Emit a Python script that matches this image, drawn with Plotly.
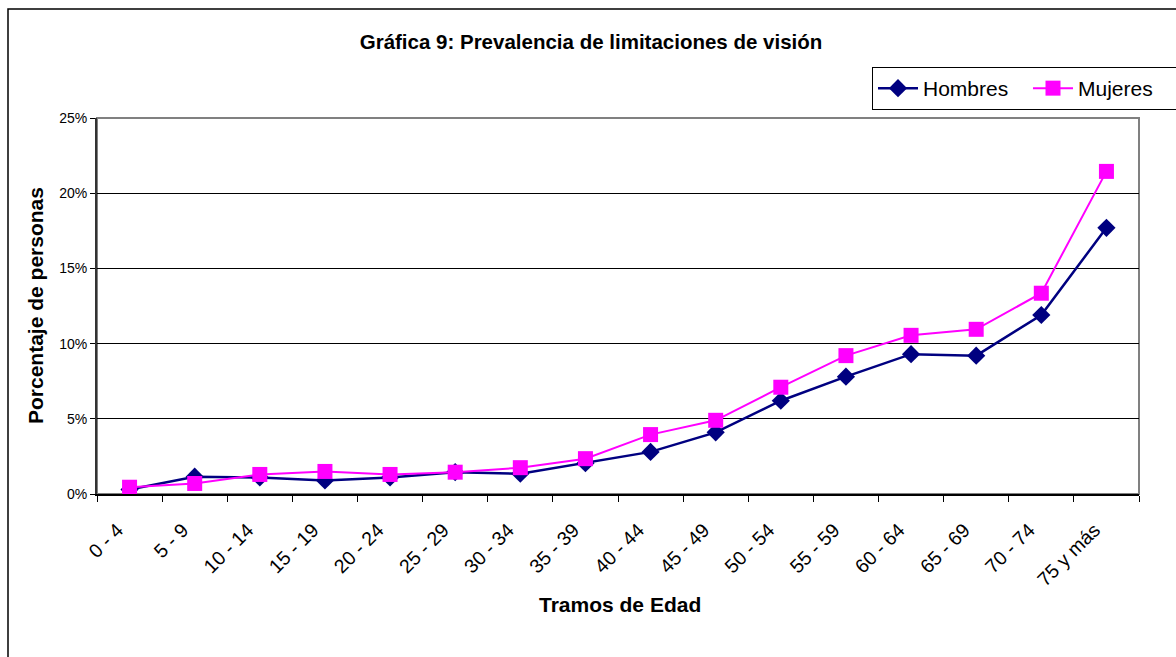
import plotly.graph_objects as go

categorias = ["0 - 4", "5 - 9", "10 - 14", "15 - 19", "20 - 24", "25 - 29", "30 - 34",
              "35 - 39", "40 - 44", "45 - 49", "50 - 54", "55 - 59", "60 - 64",
              "65 - 69", "70 - 74", "75 y más"]
hombres = [0.3, 1.15, 1.1, 0.9, 1.1, 1.45, 1.35, 2.05, 2.8, 4.1, 6.2, 7.8, 9.3, 9.2, 11.9, 17.7]
mujeres = [0.45, 0.7, 1.3, 1.5, 1.3, 1.45, 1.75, 2.35, 3.95, 4.9, 7.1, 9.2, 10.55, 10.95, 13.35, 21.45]
y_ticks = [0, 5, 10, 15, 20, 25]
y_ticktext = [f"{v}%" for v in y_ticks]

FONT = "Arial, Liberation Sans, sans-serif"
W, H = 1176, 657
L, R, T, B = 97, 37, 118, 163
PW, PH = W - L - R, H - T - B


def px(x):
    return (x - L) / PW


def py(y):
    return (H - B - y) / PH


fig = go.Figure()
fig.add_trace(go.Scatter(
    x=categorias, y=hombres, name="Hombres", mode="lines+markers",
    line=dict(color="#000080", width=2.5),
    marker=dict(symbol="diamond", size=14, color="#000080"),
))
fig.add_trace(go.Scatter(
    x=categorias, y=mujeres, name="Mujeres", mode="lines+markers",
    line=dict(color="#FF00FF", width=2),
    marker=dict(symbol="square", size=15, color="#FF00FF"),
))

fig.update_layout(
    width=W, height=H,
    margin=dict(l=L, r=R, t=T, b=B, autoexpand=False),
    paper_bgcolor="white", plot_bgcolor="white",
    font=dict(family=FONT, color="black"),
    title=dict(text="<b>Gráfica 9: Prevalencia de limitaciones de visión</b>",
               font=dict(size=20.5, family=FONT, color="black"),
               x=591 / W, xanchor="center", xref="container",
               y=1 - 42 / H, yanchor="middle", yref="container"),
    showlegend=True,
    legend=dict(orientation="h", xref="container", yref="container",
                x=872 / W, xanchor="left", y=1 - 67 / H, yanchor="top",
                bordercolor="black", borderwidth=1, bgcolor="white",
                font=dict(size=21, family=FONT, color="black"),
                entrywidth=100, entrywidthmode="pixels",
                itemwidth=40, tracegroupgap=0),
    xaxis=dict(type="category", tickson="boundaries", ticks="outside", ticklen=6,
               tickcolor="black", tickwidth=1, showline=True, linecolor="black",
               linewidth=2, showgrid=False, tickangle=-45,
               ticklabelshift=-12, ticklabelstandoff=15,
               tickfont=dict(size=19.5, family=FONT, color="black"),
               range=[-0.5, len(categorias) - 0.5]),
    yaxis=dict(range=[0, 25], tickmode="array", tickvals=y_ticks, ticktext=y_ticktext,
               ticks="outside", ticklen=5, tickcolor="black", showline=True,
               linecolor="#333333", linewidth=2, showgrid=True, gridcolor="#000000",
               gridwidth=1, zeroline=False,
               tickfont=dict(size=14, family=FONT, color="black")),
    shapes=[
        dict(type="rect", xref="paper", yref="paper", x0=0, x1=1, y0=0, y1=1,
             line=dict(color="#808080", width=2), layer="below"),
        dict(type="rect", xref="paper", yref="paper", x0=px(8), x1=px(W + 10),
             y0=py(H + 10), y1=py(9), line=dict(color="black", width=1.5), layer="below"),
    ],
    annotations=[
        dict(text="<b>Porcentaje de personas</b>", xref="paper", yref="paper",
             x=px(35), y=0.5, textangle=-90, showarrow=False,
             font=dict(size=21, family=FONT, color="black"),
             xanchor="center", yanchor="middle"),
        dict(text="<b>Tramos de Edad</b>", xref="paper", yref="paper",
             x=px(620), y=py(604), showarrow=False,
             font=dict(size=21, family=FONT, color="black"),
             xanchor="center", yanchor="middle"),
    ],
)

fig.write_html("out.html", config={"displayModeBar": False},
               post_script="document.body.style.margin='0';document.body.style.overflow='hidden';")
